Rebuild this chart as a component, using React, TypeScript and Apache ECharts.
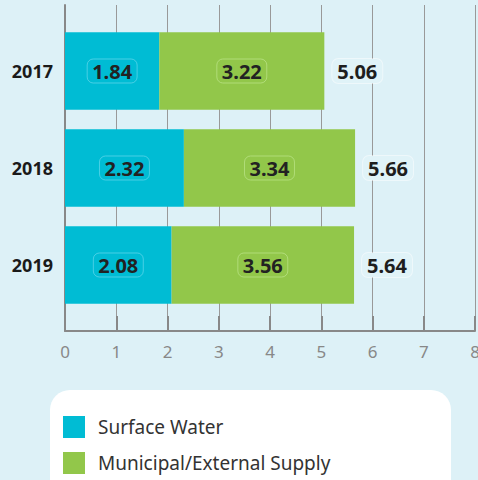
import React, { useEffect, useRef } from "react";
import * as echarts from "echarts";

const years = ["2017", "2018", "2019"];
const surfaceWater = [1.84, 2.32, 2.08];
const municipal = [3.22, 3.34, 3.56];
const totals = [5.06, 5.66, 5.64];
const xTicks = [0, 1, 2, 3, 4, 5, 6, 7, 8];

const FONT = "'Noto Sans', 'Open Sans', sans-serif";

export default function App() {
  const ref = useRef<HTMLDivElement>(null);
  useEffect(() => {
    if (!ref.current) return;
    const chart = echarts.init(ref.current, undefined, { renderer: "svg" });
    const boxLabel = (border: string) => ({
      show: true,
      position: "inside",
      fontFamily: FONT,
      fontSize: 20,
      fontWeight: "bold",
      color: "#222",
      borderColor: border,
      borderWidth: 1,
      borderRadius: 6,
      padding: [3, 5, 1, 5],
    });
    chart.setOption({
      animation: false,
      backgroundColor: "#ddf1f7",
      textStyle: { fontFamily: FONT },
      graphic: [
        {
          type: "rect",
          shape: { x: 50, y: 390, width: 401, height: 130, r: 20 },
          style: { fill: "#ffffff" },
          z: -1,
        },
      ],
      legend: {
        orient: "vertical",
        left: 63,
        top: 416,
        itemWidth: 22,
        itemHeight: 22,
        itemGap: 14,
        icon: "rect",
        padding: 0,
        textStyle: { fontSize: 19, color: "#333", fontFamily: FONT, padding: [0, 0, 0, 8] },
        data: ["Surface Water", "Municipal/External Supply"],
      },
      grid: [
        { left: 65, right: 3, top: 5, bottom: 149, outerBoundsMode: "none", containLabel: false },
        { left: 65, right: 3, top: 22.5, bottom: 166.5, outerBoundsMode: "none", containLabel: false },
      ],
      xAxis: [
        {
          gridIndex: 0,
          type: "value",
          min: xTicks[0],
          max: xTicks[xTicks.length - 1],
          interval: 1,
          axisLine: { show: true, lineStyle: { color: "#888", width: 2 } },
          axisTick: { show: true, inside: true, length: 15, lineStyle: { color: "#888", width: 2 } },
          splitLine: { show: true, lineStyle: { color: "#999", width: 1 } },
          axisLabel: { color: "#888", fontSize: 17, margin: 12, fontFamily: FONT },
        },
        {
          gridIndex: 1,
          type: "value",
          min: 0,
          max: 8,
          show: false,
        },
      ],
      yAxis: [
        {
          gridIndex: 0,
          type: "category",
          data: ["a"],
          axisLine: { show: true, lineStyle: { color: "#888", width: 2 } },
          axisTick: { show: false },
          axisLabel: { show: false },
        },
        {
          gridIndex: 1,
          type: "category",
          inverse: true,
          data: years,
          axisLine: { show: false },
          axisTick: { show: false },
          axisLabel: {
            color: "#1a1a1a",
            fontSize: 18,
            fontWeight: "bold",
            margin: 12,
            fontFamily: FONT,
          },
        },
      ],
      series: [
        {
          name: "Surface Water",
          type: "bar",
          xAxisIndex: 1,
          yAxisIndex: 1,
          stack: "t",
          barCategoryGap: "20%",
          data: surfaceWater,
          itemStyle: { color: "#00bcd4" },
          label: { ...boxLabel("rgba(120,220,240,0.6)"), formatter: (p: any) => p.value.toFixed(2) },
        },
        {
          name: "Municipal/External Supply",
          type: "bar",
          xAxisIndex: 1,
          yAxisIndex: 1,
          stack: "t",
          data: municipal,
          itemStyle: { color: "#92c74a" },
          label: { ...boxLabel("rgba(190,230,140,0.7)"), formatter: (p: any) => p.value.toFixed(2) },
        },
        {
          name: "Total",
          type: "scatter",
          xAxisIndex: 1,
          yAxisIndex: 1,
          symbolSize: 0,
          itemStyle: { opacity: 1 },
          data: totals.map((t, i) => [t, years[i]]),
          label: {
            show: true,
            position: "right",
            distance: 8,
            fontFamily: FONT,
            fontSize: 20,
            fontWeight: "bold",
            color: "#1e1e1e",
            backgroundColor: "#e0f3f8",
            borderColor: "rgba(255,255,255,0.5)",
            borderWidth: 1,
            borderRadius: 6,
            padding: [3, 5, 1, 5],
            formatter: (p: any) => p.value[0].toFixed(2),
          },
        },
      ],
    });
    return () => chart.dispose();
  }, []);
  return (
    <div
      ref={ref}
      style={{ position: "fixed", left: 0, top: 0, width: 478, height: 480 }}
    />
  );
}
